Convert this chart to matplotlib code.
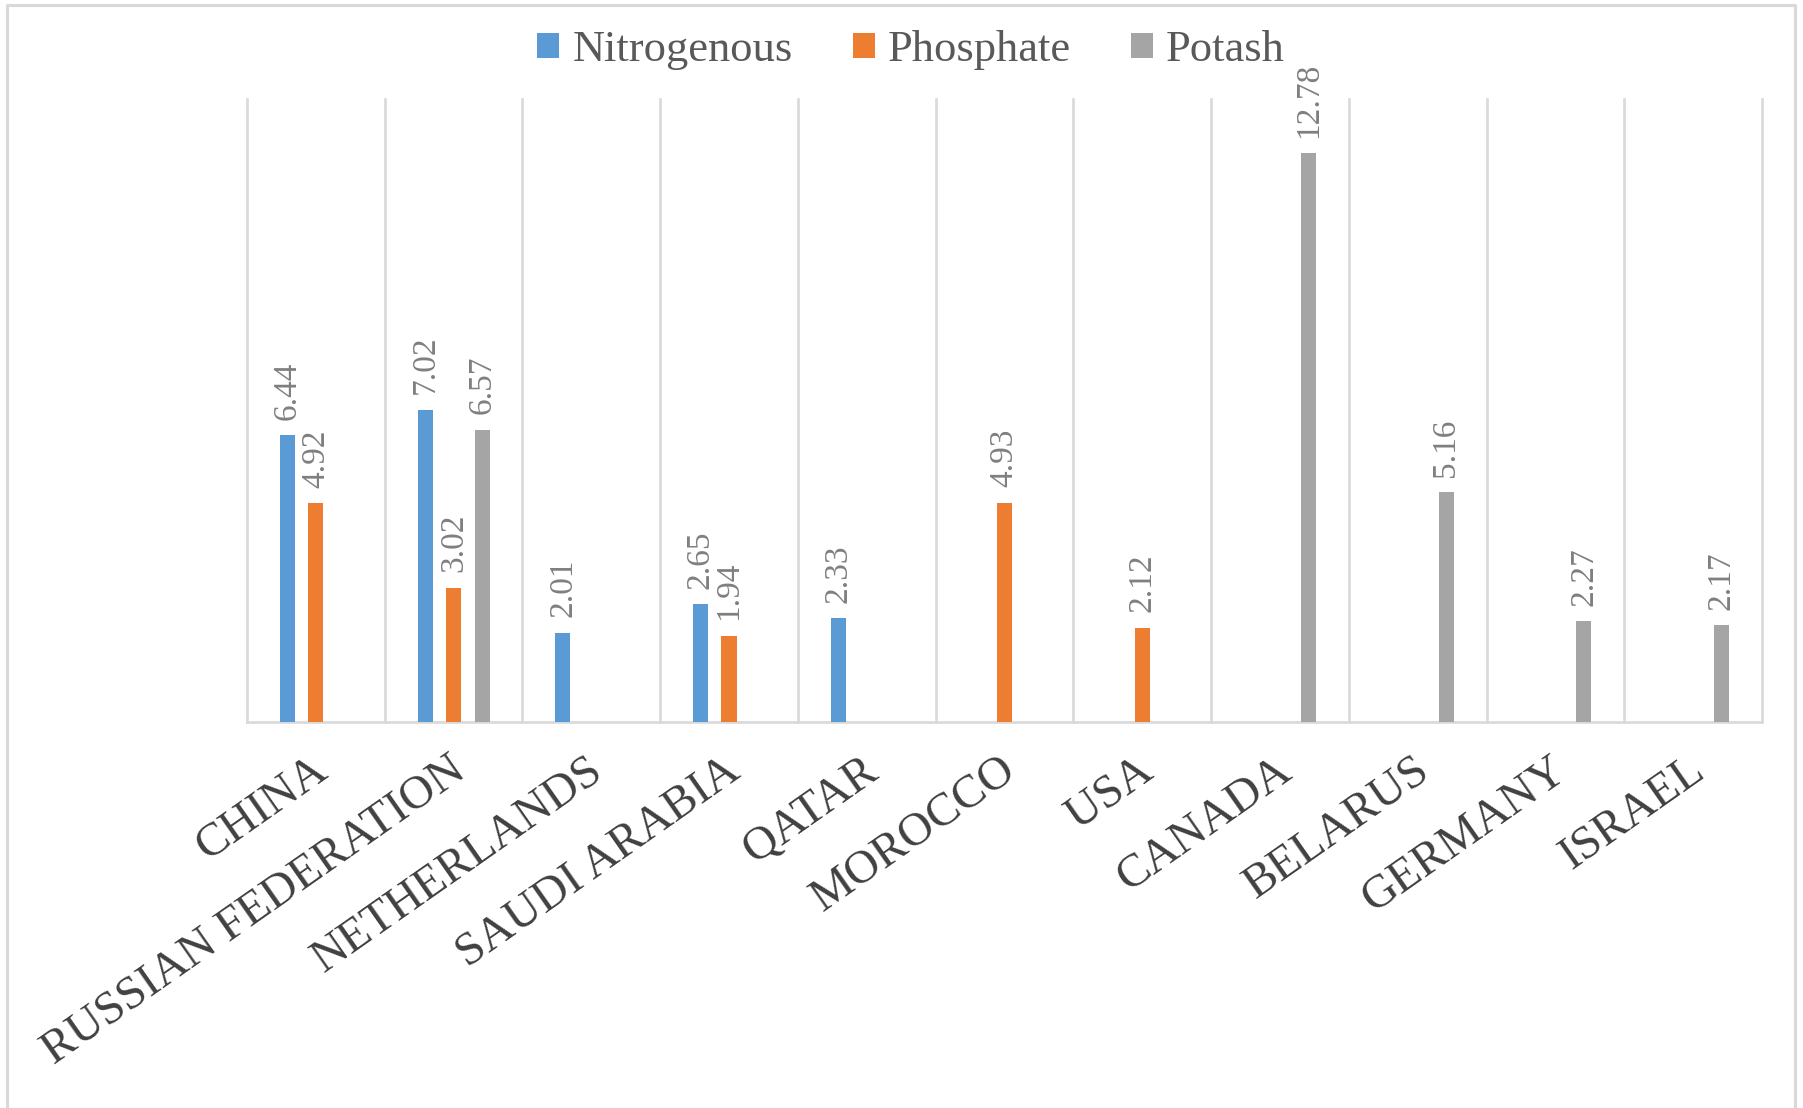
import matplotlib
matplotlib.use("Agg")
import matplotlib.pyplot as plt
import numpy as np
from matplotlib.transforms import ScaledTranslation
from matplotlib.lines import Line2D
from matplotlib.patches import Patch

countries = ["CHINA", "RUSSIAN FEDERATION", "NETHERLANDS", "SAUDI ARABIA", "QATAR",
             "MOROCCO", "USA", "CANADA", "BELARUS", "GERMANY", "ISRAEL"]
series_names = ["Nitrogenous", "Phosphate", "Potash"]
nitrogenous = [6.44, 7.02, 2.01, 2.65, 2.33, None, None, None, None, None, None]
phosphate = [4.92, 3.02, None, 1.94, None, 4.93, 2.12, None, None, None, None]
potash = [None, 6.57, None, None, None, None, None, 12.78, 5.16, 2.27, 2.17]

colors = ["#5B9BD5", "#ED7D31", "#A5A5A5"]

plt.rcParams['font.family'] = ['Liberation Serif', 'DejaVu Serif']

W, H = 1803, 1108
fig = plt.figure(figsize=(W / 100, H / 100), dpi=100)
ax = fig.add_axes([247 / W, 1 - 722 / H, (1762 - 247) / W, (722 - 99) / H])

x = np.arange(len(countries))
offsets = [-0.207, 0.0, 0.207]
bar_w = 0.11
for s, (vals, col, off) in enumerate(zip([nitrogenous, phosphate, potash], colors, offsets)):
    for i, v in enumerate(vals):
        if v is None:
            continue
        ax.bar(x[i] + off, v, width=bar_w, color=col, zorder=3)
        ax.annotate(f"{v:.2f}", xy=(x[i] + off, v), xytext=(0, 11),
                    textcoords="offset points", rotation=90, ha="center", va="bottom",
                    fontsize=24, color="#7F7F7F", zorder=4)

ax.set_xlim(-0.5, len(countries) - 0.5)
ax.set_ylim(0, 14)
ax.set_yticks([])
ax.set_xticks([])

grid_col = "#D9D9D9"
for b in np.arange(-0.5, len(countries), 1.0):
    ax.axvline(b, color=grid_col, lw=1.9, zorder=1, clip_on=False)
for sp in ["top", "left", "right"]:
    ax.spines[sp].set_visible(False)
ax.spines["bottom"].set_color(grid_col)
ax.spines["bottom"].set_linewidth(1.9)
ax.spines["bottom"].set_zorder(2)

trans = ax.get_xaxis_transform() + ScaledTranslation(-0.05, -0.27, fig.dpi_scale_trans)
for i, name in enumerate(countries):
    ax.text(x[i], 0, name, transform=trans, rotation=35, rotation_mode="anchor",
            ha="right", va="top", fontsize=34, color="#404040")

handles = [Patch(facecolor=c, edgecolor="none") for c in colors]
fig.legend(handles, series_names, loc="center", bbox_to_anchor=(0.5053, 1 - 50 / H),
           ncol=3, frameon=False, fontsize=32, labelcolor="#595959",
           handlelength=0.5, handleheight=0.5, handletextpad=0.29, columnspacing=1.35,
           borderpad=0, borderaxespad=0)

# outer chart border (left, top, right)
fig.add_artist(Line2D([7 / W, 7 / W, 1795 / W, 1795 / W], [-0.01, 1 - 5 / H, 1 - 5 / H, -0.01],
                      transform=fig.transFigure, color=grid_col, lw=2.2))

fig.savefig("out.png", dpi=100, facecolor="white")
